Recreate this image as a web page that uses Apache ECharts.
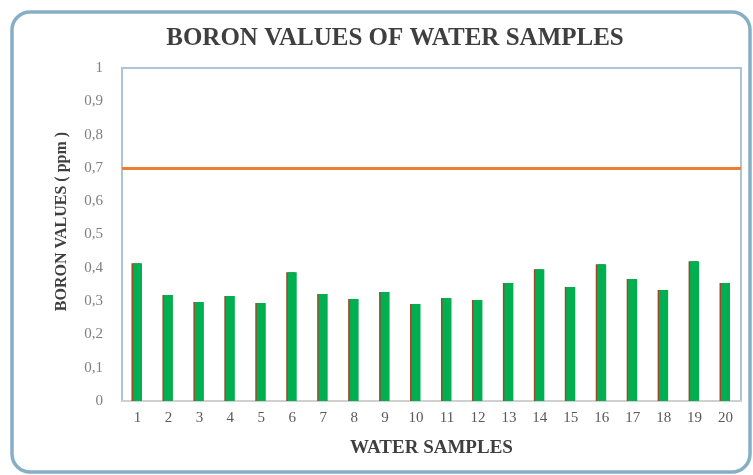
<!DOCTYPE html>
<html>
<head>
<meta charset="utf-8">
<script src="https://cdn.jsdelivr.net/npm/echarts@6/dist/echarts.min.js"></script>
<style>
  html, body { margin: 0; padding: 0; background: #fff; }
  #chart { width: 753px; height: 475px; }
</style>
</head>
<body>
<div id="chart"></div>
<script>
// sample numbers 1..20
const samples = ['1', '2', '3', '4', '5', '6', '7', '8', '9', '10',
  '11', '12', '13', '14', '15', '16', '17', '18', '19', '20']
// boron (ppm)
const boron = [0.414, 0.318, 0.297, 0.315, 0.294, 0.387, 0.321, 0.306, 0.327, 0.291,
  0.309, 0.303, 0.354, 0.396, 0.342, 0.411, 0.366, 0.333, 0.420, 0.354]
// limit value (ppm)
const limitValue = 0.7

const serif = '"Liberation Serif", "DejaVu Serif", serif'

const chart = echarts.init(document.getElementById('chart'))
const option = {
  animation: false,
  backgroundColor: '#fff',
  title: {
    text: 'BORON VALUES OF WATER SAMPLES',
    left: 390,
    top: 21,
    textAlign: 'center',
    textStyle: { fontFamily: serif, fontSize: 25, fontWeight: 'bold', color: '#3f3f3f' }
  },
  graphic: [{
    type: 'rect',
    shape: { x: 12, y: 12, width: 738, height: 460, r: 18 },
    style: { fill: 'none', stroke: '#86aec4', lineWidth: 3.5 },
    silent: true
  }],
  grid: {
    left: 122, right: 12, top: 68, bottom: 74,
    show: true, borderColor: '#a8c6d8', borderWidth: 2
  },
  xAxis: {
    type: 'category',
    data: samples,
    name: 'WATER SAMPLES',
    nameLocation: 'middle',
    nameGap: 38,
    nameTextStyle: { fontFamily: serif, fontSize: 19, fontWeight: 'bold', color: '#3f3f3f' },
    axisLine: { lineStyle: { color: '#d0d0d0', width: 2 } },
    axisTick: { show: false },
    axisLabel: { fontFamily: serif, fontSize: 15, color: '#595959', margin: 10 }
  },
  yAxis: {
    type: 'value',
    min: 0, max: 1, interval: 0.1,
    name: 'BORON VALUES ( ppm )',
    nameLocation: 'middle',
    nameGap: 52,
    nameTextStyle: { fontFamily: serif, fontSize: 16, fontWeight: 'bold', color: '#3f3f3f', padding: [0, 0, 0, 26] },
    splitLine: { show: false },
    axisLine: { show: true, lineStyle: { color: '#a8c6d8', width: 2 } },
    axisTick: { show: false },
    axisLabel: {
      fontFamily: serif, fontSize: 15, color: '#7f7f7f', margin: 19,
      formatter: v => String(Math.round(v * 10) / 10).replace('.', ',')
    }
  },
  series: [
    {
      type: 'bar',
      data: boron,
      barWidth: 9,
      itemStyle: {
        color: '#00b050',
        shadowColor: '#a0472d',
        shadowOffsetX: -1.5,
        shadowBlur: 0
      },
      markLine: {
        silent: true,
        symbol: 'none',
        label: { show: false },
        lineStyle: { color: '#ed7d31', width: 3, type: 'solid' },
        data: [{ yAxis: limitValue }]
      }
    }
  ]
}
chart.setOption(option)
</script>
</body>
</html>
